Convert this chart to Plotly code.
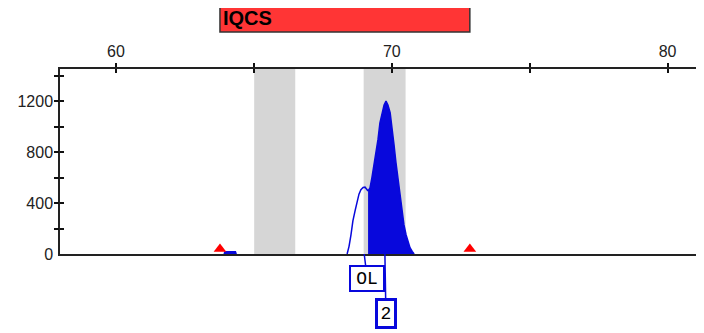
import plotly.graph_objects as go

# size axis (bp) and RFU values
x_range = [57.97, 81.32]
y_range = [0, 1453]

x_ticks = [60, 65, 70, 75, 80]
x_tick_labels = ['60', '', '70', '', '80']
y_label_vals = [0, 400, 800, 1200]
y_minor_ticks = [200, 400, 600, 800, 1000, 1200, 1400]

# marker (IQCS) range and bins
marker_name = 'IQCS'
marker_start = 63.77
marker_end = 72.83
bins = [(65.01, 66.50), (68.98, 70.50)]

# off-ladder shoulder (outline only)
ol_x = [68.38, 68.45, 68.52, 68.59, 68.67, 68.74, 68.81, 68.88, 68.96, 69.03, 69.10, 69.14]
ol_y = [0, 60, 150, 260, 340, 420, 470, 505, 522, 525, 510, 495]

# called peak (filled)
pk_x = [69.14, 69.21, 69.28, 69.36, 69.43, 69.50, 69.57, 69.65, 69.72, 69.79, 69.86,
        69.94, 70.01, 70.08, 70.15, 70.23, 70.30, 70.37, 70.44, 70.52, 70.59, 70.66,
        70.74, 70.81]
pk_y = [495, 520, 600, 700, 800, 900, 1030, 1120, 1170, 1200, 1170, 1110, 1000, 860,
        720, 590, 450, 330, 230, 150, 90, 50, 20, 0]

# little blip near the left marker end
blip_x = [63.92, 63.95, 64.33, 64.36]
blip_y = [0, 18, 18, 0]

# allele labels
allele_labels = ['OL', '2']
allele_pos = [69.00, 69.75]

BLUE = '#0808DC'

fig = go.Figure()

fig.add_trace(go.Scatter(x=ol_x, y=ol_y, mode='lines',
                         line=dict(color=BLUE, width=1.5), showlegend=False, hoverinfo='skip'))
fig.add_trace(go.Scatter(x=pk_x, y=pk_y, mode='lines', fill='tozeroy', fillcolor=BLUE,
                         line=dict(color=BLUE, width=1.5), showlegend=False, hoverinfo='skip'))
fig.add_trace(go.Scatter(x=blip_x, y=blip_y, mode='lines', fill='tozeroy', fillcolor=BLUE,
                         line=dict(color=BLUE, width=1.5), showlegend=False, hoverinfo='skip'))

# red triangles at the marker range ends, sitting on the baseline
fig.add_trace(go.Scatter(x=[marker_start, marker_end], y=[40, 40], mode='markers',
                         marker=dict(symbol='triangle-up', size=11, color='#FF0000'),
                         cliponaxis=False, showlegend=False, hoverinfo='skip'))

# empty traces so the overlay axes (inner halves of the crossing ticks) get drawn
for xa, ya in [('x2', 'y'), ('x', 'y2'), ('x', 'y3')]:
    fig.add_trace(go.Scatter(x=[x_range[0]], y=[0], mode='markers', xaxis=xa, yaxis=ya,
                             marker=dict(opacity=0), showlegend=False, hoverinfo='skip'))

for b0, b1 in bins:
    fig.add_shape(type='rect', xref='x', yref='paper', x0=b0, x1=b1, y0=0, y1=1,
                  fillcolor='#D6D6D6', line=dict(width=0), layer='below')

# marker bar on top
fig.add_shape(type='rect', xref='x', yref='paper', x0=marker_start, x1=marker_end,
              y0=1.2, y1=1.346, fillcolor='#FF3535', line=dict(color='#333333', width=1.5))
fig.add_annotation(x=marker_start, y=1.273, xref='x', yref='paper', text='<b>IQCS</b>',
                   showarrow=False, xanchor='left', yanchor='middle', xshift=1,
                   font=dict(family='Liberation Sans', size=20, color='black'))

# allele call boxes
fig.add_annotation(x=allele_pos[0], y=0, xref='x', yref='y', text=allele_labels[0],
                   showarrow=True, arrowhead=0, arrowcolor=BLUE, arrowwidth=1.5,
                   ax=3, ay=24.5, width=30, height=21, borderpad=1,
                   bordercolor=BLUE, borderwidth=2, bgcolor='white',
                   font=dict(family='Liberation Mono', size=18, color='black'))
fig.add_annotation(x=allele_pos[1], y=0, xref='x', yref='y', text=allele_labels[1],
                   showarrow=True, arrowhead=0, arrowcolor=BLUE, arrowwidth=1.5,
                   ax=1, ay=59, width=14, height=23, borderpad=1,
                   bordercolor=BLUE, borderwidth=3, bgcolor='white',
                   font=dict(family='Liberation Mono', size=18, color='black'))

tick_font = dict(family='Liberation Sans', size=16, color='#222222')

# page body has an 8px margin: pull the figure in by 8px
fig.update_layout(
    width=696, height=325,
    margin=dict(l=52, r=0, t=61, b=79, pad=0),
    paper_bgcolor='white', plot_bgcolor='white',
    xaxis=dict(range=x_range, side='top', tickvals=x_ticks, ticktext=x_tick_labels,
               ticks='outside', ticklen=4, tickwidth=1.5, tickcolor='#111111',
               showline=True, linecolor='#222222', linewidth=2, mirror=True,
               showgrid=False, zeroline=False, tickfont=tick_font),
    xaxis2=dict(range=x_range, overlaying='x', side='top', anchor='y', tickvals=x_ticks,
                ticks='inside', ticklen=4, tickwidth=1.5, tickcolor='#111111',
                showticklabels=False, showline=False, showgrid=False, zeroline=False),
    yaxis=dict(range=y_range, tickvals=y_label_vals, ticks='', showline=True,
               linecolor='#222222', linewidth=1.5, showgrid=False, zeroline=False,
               tickfont=tick_font, ticklabelstandoff=2),
    yaxis2=dict(range=y_range, overlaying='y', anchor='x', tickvals=y_minor_ticks,
                ticks='outside', ticklen=5, tickwidth=1.5, tickcolor='#111111',
                showticklabels=False, showline=False, showgrid=False, zeroline=False),
    yaxis3=dict(range=y_range, overlaying='y', anchor='x', tickvals=y_minor_ticks,
                ticks='inside', ticklen=4, tickwidth=1.5, tickcolor='#111111',
                showticklabels=False, showline=False, showgrid=False, zeroline=False),
)

fig.write_html('out.html')
